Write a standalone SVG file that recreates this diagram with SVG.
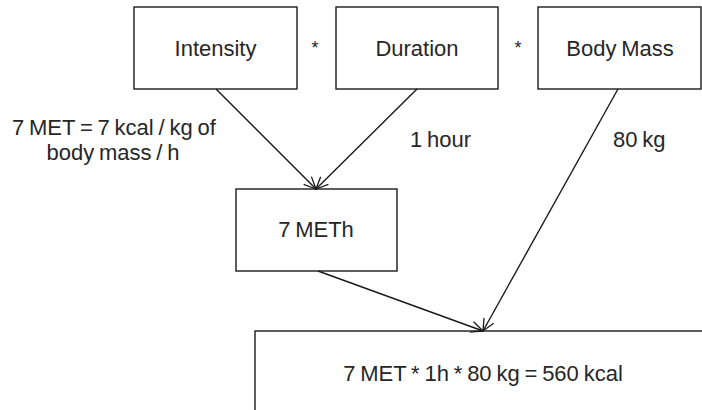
<svg xmlns="http://www.w3.org/2000/svg" width="702" height="410" viewBox="0 0 702 410">
<style>
.box{fill:#fff;stroke:#1a1a1a;stroke-width:1.4}
.t{font-family:"Liberation Sans",Arial,sans-serif;font-size:22px;fill:#262626;word-spacing:-1.3px}
.c{text-anchor:middle}
.op{font-size:18px}
.edge{stroke:#1a1a1a;stroke-width:1.4;fill:none;marker-end:url(#arr)}
</style>
<defs>
<marker id="arr" viewBox="0 0 14 14" refX="13" refY="7" markerWidth="14" markerHeight="14" markerUnits="userSpaceOnUse" orient="auto">
<path d="M1,1.5 L13,7 L1,12.5" fill="none" stroke="#1a1a1a" stroke-width="1.3"/>
</marker>
</defs>
<rect width="702" height="410" fill="#fff"/>
<g id="intensity"><rect class="box" x="134" y="7" width="163" height="82"/><text class="t c" x="215.5" y="56">Intensity</text></g>
<g id="duration"><rect class="box" x="336" y="7" width="162" height="82"/><text class="t c" x="417" y="56">Duration</text></g>
<g id="bodymass"><rect class="box" x="538" y="7" width="163" height="82"/><text class="t c" x="620" y="56">Body Mass</text></g>
<g id="meth"><rect class="box" x="236" y="189" width="161" height="82"/><text class="t c" x="316" y="237">7 METh</text></g>
<g id="result"><rect class="box" x="255" y="331" width="460" height="100"/><text class="t c" x="483" y="381">7 MET * 1h * 80 kg = 560 kcal</text></g>
<g id="operators"><text class="t c op" x="315" y="54">*</text><text class="t c op" x="518" y="54">*</text></g>
<g id="labels">
<text class="t" x="12" y="135">7 MET = 7 kcal / kg of</text>
<text class="t c" x="113" y="160">body mass / h</text>
<text class="t" x="410" y="147">1 hour</text>
<text class="t" x="613" y="147">80 kg</text>
</g>
<g id="connectors">
<line class="edge" x1="216" y1="89" x2="316" y2="189"/>
<line class="edge" x1="417" y1="89" x2="316" y2="189"/>
<line class="edge" x1="618" y1="89" x2="483" y2="331"/>
<line class="edge" x1="318" y1="271" x2="483" y2="331"/>
</g>
</svg>
